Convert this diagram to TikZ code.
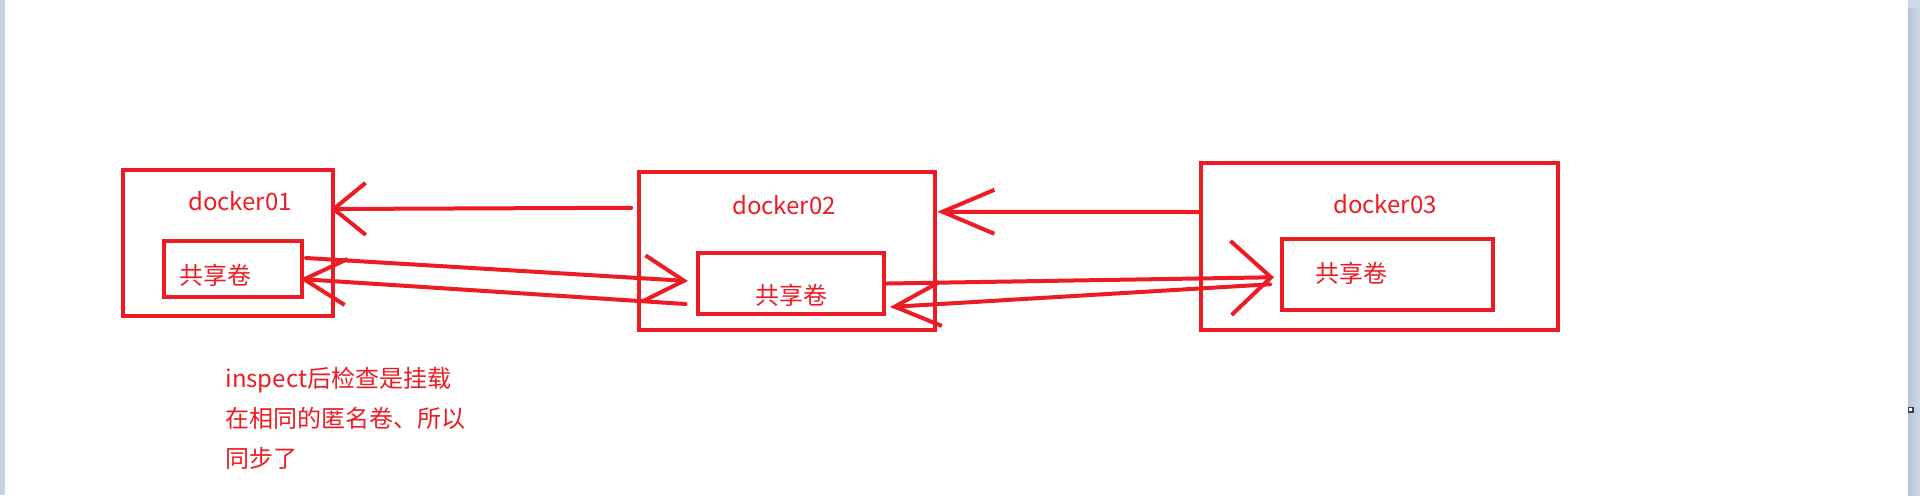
\documentclass[tikz,border=0pt]{standalone}
\usepackage{fontspec}
\setmainfont{Noto Sans CJK SC}
\usepackage{xcolor}
\usetikzlibrary{arrows.meta}

\definecolor{paintred}{RGB}{237,28,36}
\definecolor{edgeblue}{RGB}{200,209,226}
\definecolor{edgedark}{RGB}{184,196,217}
\definecolor{edgelight}{RGB}{207,216,232}

\begin{document}
\begin{tikzpicture}[
      x=0.5pt, y=-0.5pt,
      box/.style={
        rectangle,
        draw=paintred,
        line width=2pt,
        inner sep=0pt
      },
      boxtext/.style={
        text=paintred,
        font=\fontsize{12}{20}\selectfont,
        inner sep=0pt
      },
      link/.style={draw=paintred, line width=2pt, line cap=round},
      barb/.style 2 args={-{Straight Barb[length=#1, width=#2]}}
    ]
    % Canvas
    \fill[white] (0,0) rectangle (1920,495);
    \useasboundingbox (0,0) rectangle (1920,495);
    \fill[edgeblue] (0,0) rectangle (5,495);
    \shade[left color=edgedark, right color=edgelight] (1908,8) rectangle (1920,495);
    \fill[edgelight] (1908,0) rectangle (1920,8);
    \draw[black!75, line width=0.6pt, fill=white] (1908.5,407.5) rectangle (1913,412);

    % Boxes
    \node[box, minimum width=105pt, minimum height=73pt] (d1) at (227.5,243) {};
    \node[box, minimum width=69pt, minimum height=28pt] (d1in) at (233,269) {};
    \node[box, minimum width=148pt, minimum height=79pt] (d2) at (787.25,250.75) {};
    \node[box, minimum width=93.25pt, minimum height=30.5pt] (d2in) at (790.75,283.5) {};
    \node[box, minimum width=178.75pt, minimum height=83.5pt] (d3) at (1379.25,246.5) {};
    \node[box, minimum width=105.75pt, minimum height=35.25pt] (d3in) at (1387.25,274.25) {};

    % Texts
    \node[boxtext, anchor=base] (d1name) at (240,210) {docker01};
    \node[boxtext, anchor=base] (d2name) at (784,214) {docker02};
    \node[boxtext, anchor=base] (d3name) at (1385,213) {docker03};
    \node[boxtext] (d1vol) at (215,275) {共享卷};
    \node[boxtext] (d2vol) at (791,295) {共享卷};
    \node[boxtext] (d3vol) at (1351,273) {共享卷};
    \node[boxtext, align=left, anchor=north west] (note) at (225,367)
      {inspect后检查是挂载\\在相同的匿名卷、所以\\同步了};

    % Arrows
    \path ([xshift=-3pt, yshift=21.5pt]d2.west) edge[link, barb={16pt}{26pt}] ([xshift=-2pt, yshift=17pt]d1.east)
          ([xshift=1pt, yshift=17.25pt]d3.west) edge[link, barb={26pt}{22pt}] ([yshift=19.5pt]d2.east)
          ([xshift=1pt, yshift=5.5pt]d1in.east) edge[link, barb={20pt}{23pt}] ([xshift=-3.75pt, yshift=1.25pt]d2in.west)
          ([xshift=-5pt, yshift=-10.25pt]d2in.west) edge[link, barb={21pt}{23pt}] ([xshift=-2pt, yshift=-5pt]d1in.east)
          ([xshift=0.5pt]d2in.east) edge[link, barb={20pt}{37pt}] ([xshift=-2.75pt, yshift=-1.5pt]d3in.west)
          ([xshift=-4.75pt, yshift=-5pt]d3in.west) edge[link, barb={23pt}{22pt}] ([xshift=2pt, yshift=-11.75pt]d2in.east);
  \end{tikzpicture}
\end{document}
